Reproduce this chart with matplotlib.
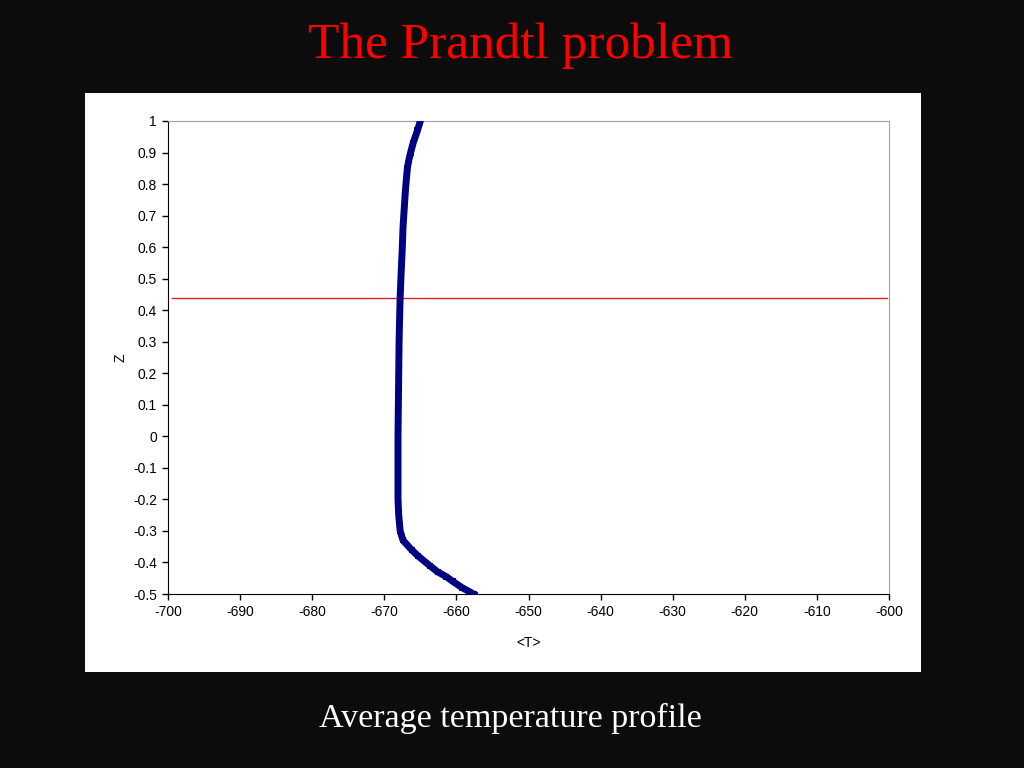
import matplotlib.pyplot as plt
from matplotlib.patches import Rectangle
import numpy as np

plt.rcParams['axes.unicode_minus'] = False

# average temperature profile
z = [1.0, 0.97, 0.93, 0.9, 0.876, 0.85, 0.8, 0.77, 0.7, 0.665, 0.6, 0.5, 0.44, 0.4, 0.3, 0.2, 0.1, 0.0,
     -0.1, -0.14, -0.2, -0.25, -0.3, -0.33, -0.36, -0.38, -0.41, -0.43, -0.445, -0.46, -0.48, -0.5]
T = [-665.0, -665.4, -666.0, -666.35, -666.6, -666.8, -667.0, -667.1, -667.3, -667.4, -667.5, -667.7, -667.8,
     -667.85, -667.95, -668.0, -668.05, -668.1, -668.1, -668.1, -668.1, -668.0, -667.8, -667.4, -666.2,
     -665.3, -663.7, -662.6, -661.4, -660.5, -659.2, -657.6]
z_line = 0.44

fig = plt.figure(figsize=(10.24, 7.68), dpi=100)
fig.patch.set_facecolor('#0c0c0c')

# white chart panel
panel = Rectangle((85 / 1024, 1 - 672 / 768), 836 / 1024, 579 / 768,
                  transform=fig.transFigure, facecolor='white', edgecolor='none', zorder=-5)
fig.add_artist(panel)

ax = fig.add_axes([168 / 1024, 1 - 594 / 768, 721 / 1024, 473 / 768])
ax.set_zorder(2)
ax.set_facecolor('white')

ax.plot(T, z, color='#000080', lw=5, marker='s', ms=5, mew=0, zorder=3)
ax.plot([-699.5, -600.3], [z_line, z_line], color='#e02020', lw=1, zorder=2)

ax.set_xlim(-700, -600)
ax.set_ylim(-0.5, 1)
ax.set_xticks(np.arange(-700, -599, 10))
yt = np.round(np.arange(-0.5, 1.01, 0.1), 1) + 0.0
ax.set_yticks(yt)
ax.set_yticklabels([('%g' % (v if abs(v) > 1e-9 else 0)) for v in yt])

for s in ['top', 'right']:
    ax.spines[s].set_color('#a0a0a0')
for s in ['left', 'bottom']:
    ax.spines[s].set_color('#000000')
ax.tick_params(direction='out', length=4, width=1, labelsize=10, pad=4)
ax.tick_params(top=False, right=False)
for lab in ax.get_xticklabels() + ax.get_yticklabels():
    lab.set_family('Liberation Sans')

ax.set_xlabel('<T>', fontsize=10, family='Liberation Sans', labelpad=12)
ax.set_ylabel('Z', fontsize=10, family='Liberation Sans', labelpad=4)

fig.text(0.508, 0.94, 'The Prandtl problem', color='red', fontsize=37,
         family='Liberation Serif', ha='center', va='center')
fig.text(0.498, 0.065, 'Average temperature profile', color='white', fontsize=24.5,
         family='Liberation Serif', ha='center', va='center')

fig.savefig('out.png', dpi=100, facecolor=fig.get_facecolor())
